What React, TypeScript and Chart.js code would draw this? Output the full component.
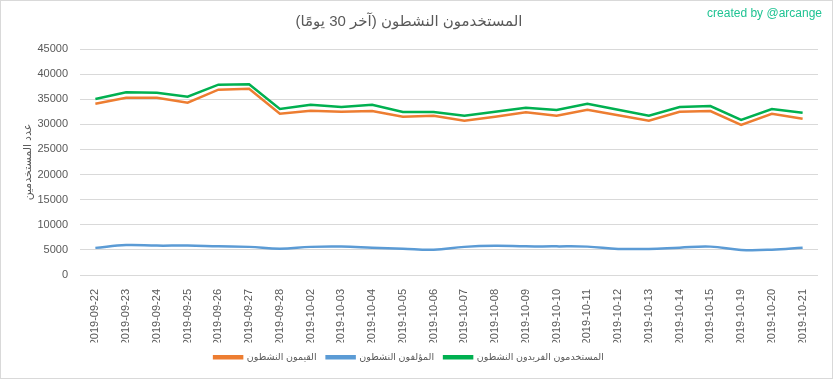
import React, { useEffect, useRef } from "react";
import { Chart, registerables } from "chart.js";

Chart.register(...registerables);

const labels = [
  "2019-09-22", "2019-09-23", "2019-09-24", "2019-09-25", "2019-09-26", "2019-09-27",
  "2019-09-28", "2019-10-02", "2019-10-03", "2019-10-04", "2019-10-05", "2019-10-06",
  "2019-10-07", "2019-10-08", "2019-10-09", "2019-10-10", "2019-10-11", "2019-10-12",
  "2019-10-13", "2019-10-14", "2019-10-15", "2019-10-19", "2019-10-20", "2019-10-21",
];

const curators = [
  34100, 35300, 35300, 34300, 36900, 37100, 32100, 32700, 32500, 32650, 31500, 31700,
  30700, 31500, 32400, 31700, 32900, 31800, 30700, 32500, 32650, 29900, 32100, 31100,
];

const authors = [
  5400, 5970, 5850, 5850, 5700, 5600, 5250, 5600, 5650, 5450, 5250, 5050,
  5600, 5800, 5700, 5700, 5650, 5200, 5200, 5450, 5650, 5000, 5050, 5450,
];

const uniqueUsers = [
  35050, 36400, 36300, 35500, 37900, 38000, 33050, 33900, 33450, 33900, 32450, 32450,
  31700, 32500, 33300, 32850, 34100, 32900, 31700, 33450, 33650, 30900, 33050, 32300,
];

const seriesNames = ["القيمون النشطون", "المؤلفون النشطون", "المستخدمون الفريدون النشطون"];
const titleText = "\u200Fالمستخدمون النشطون (آخر 30 يومًا)\u200F";
const yTitle = "عدد المستخدمين";
const watermark = "created by @arcange";

const FONT = "'Liberation Sans', 'DejaVu Sans', sans-serif";
const TEXT = "#595959";
const GRID = "#d9d9d9";

export default function App() {
  const ref = useRef<HTMLCanvasElement | null>(null);

  useEffect(() => {
    if (!ref.current) return;
    const extras = {
      id: "extras",
      afterDraw(chart: any) {
        const ctx = chart.ctx;
        ctx.save();
        ctx.strokeStyle = GRID;
        ctx.lineWidth = 1;
        ctx.strokeRect(0.5, 0.5, chart.width - 1, chart.height - 1);
        ctx.fillStyle = "#1fc393";
        ctx.font = `12px ${FONT}`;
        ctx.textAlign = "right";
        ctx.textBaseline = "middle";
        ctx.fillText(watermark, 822, 14);
        ctx.restore();
      },
    };
    const chart = new Chart(ref.current, {
      type: "line",
      data: {
        labels,
        datasets: [
          {
            label: seriesNames[0],
            data: curators,
            borderColor: "#ED7D31",
            backgroundColor: "#ED7D31",
            borderWidth: 2.5,
            pointRadius: 0,
            tension: 0,
            fill: false,
          },
          {
            label: seriesNames[1],
            data: authors,
            borderColor: "#5B9BD5",
            backgroundColor: "#5B9BD5",
            borderWidth: 2.5,
            pointRadius: 0,
            tension: 0.4,
            fill: false,
          },
          {
            label: seriesNames[2],
            data: uniqueUsers,
            borderColor: "#00B050",
            backgroundColor: "#00B050",
            borderWidth: 2.5,
            pointRadius: 0,
            tension: 0,
            fill: false,
          },
        ],
      },
      options: {
        animation: false,
        responsive: false,
        layout: { padding: { left: 0, right: 15, top: 0, bottom: 7 } },
        plugins: {
          title: {
            display: true,
            text: titleText,
            color: TEXT,
            font: { family: FONT, size: 15, weight: "normal" },
            padding: { top: 13, bottom: 18 },
          },
          legend: {
            position: "bottom",
            labels: {
              color: TEXT,
              font: { family: FONT, size: 9.5 },
              boxWidth: 28,
              boxHeight: 2,
              padding: 10,
            },
          },
          tooltip: { enabled: false },
        },
        scales: {
          x: {
            offset: true,
            grid: { display: false, offset: true },
            border: { display: false },
            ticks: {
              color: TEXT,
              font: { family: FONT, size: 11 },
              autoSkip: false,
              maxRotation: 90,
              minRotation: 90,
              padding: 6,
            },
            afterFit: (scale: any) => {
              scale.height = 67.5;
            },
          },
          y: {
            min: 0,
            max: 45000,
            grid: { color: GRID, drawTicks: false },
            border: { display: false },
            ticks: {
              stepSize: 5000,
              color: TEXT,
              font: { family: FONT, size: 11 },
              padding: 12,
              callback: (v: any) => String(v),
            },
            title: {
              display: true,
              text: yTitle,
              color: TEXT,
              font: { family: FONT, size: 11 },
              padding: { top: 21, bottom: 0 },
            },
            afterFit: (scale: any) => {
              scale.width = 80;
            },
          },
        },
      },
      plugins: [extras],
    });
    return () => chart.destroy();
  }, []);

  return (
    <div style={{ position: "fixed", left: 0, top: 0, width: 833, height: 379, background: "#fff" }}>
      <canvas ref={ref} width={833} height={379} style={{ display: "block" }} />
    </div>
  );
}
